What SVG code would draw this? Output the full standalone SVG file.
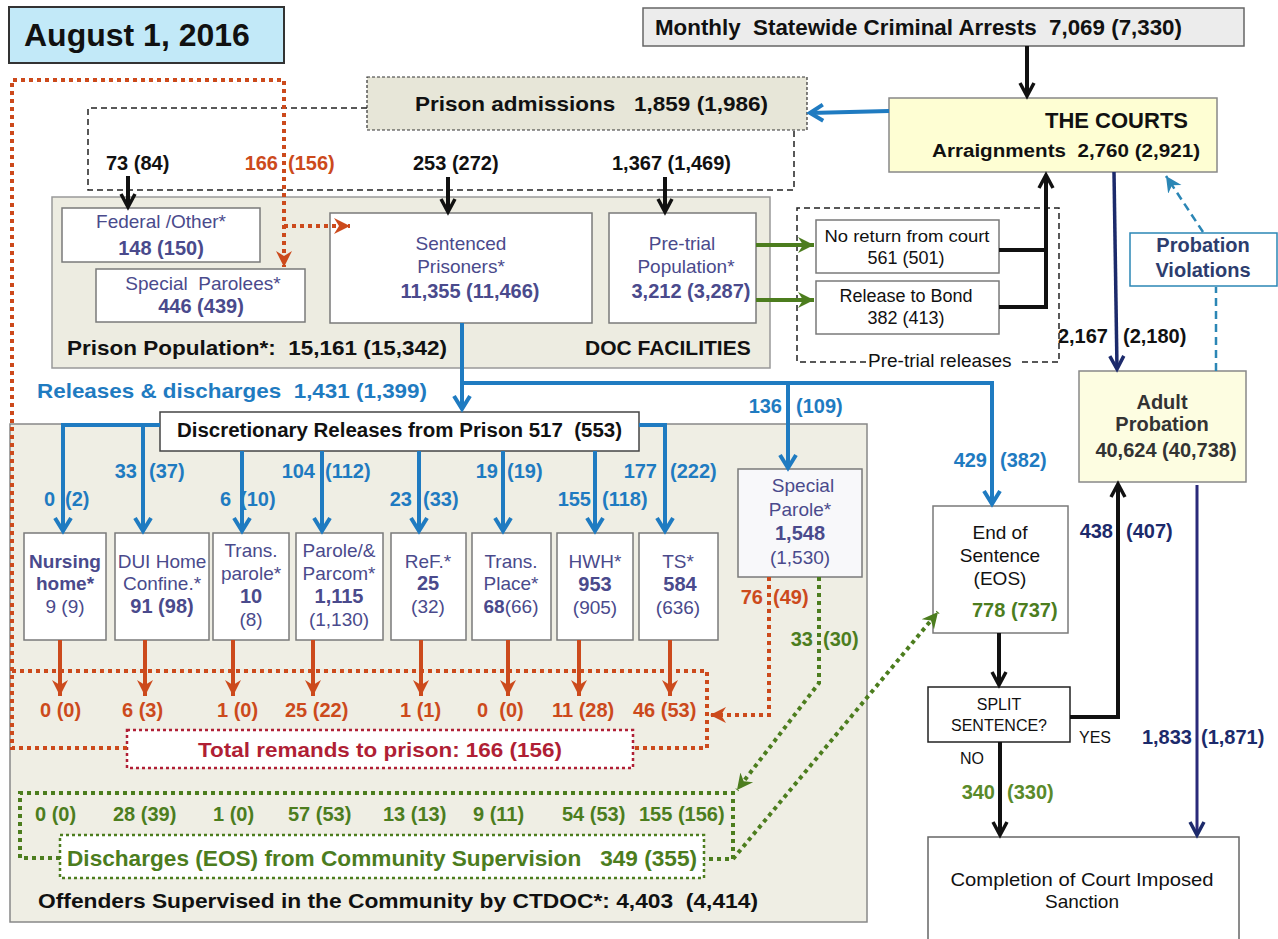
<svg xmlns="http://www.w3.org/2000/svg" width="1278" height="939" viewBox="0 0 1278 939">
<style>
text{font-family:"Liberation Sans",Arial,sans-serif;fill:#111}
.b{font-weight:bold}
.m{text-anchor:middle}
.e{text-anchor:end}
.f20{font-size:20px}
.f19{font-size:19px}
.f18{font-size:18px}
.f16{font-size:16px}
.pu{fill:#4a4a8c}
.bl{fill:#1f7bc1}
.rd{fill:#cc4a1c}
.cr{fill:#b01f35}
.gr{fill:#4c7d1e}
.lgr{fill:#5a8a2a}
.nv{fill:#1c2a6b}
.pv{fill:#2d3d6e}
.dk{fill:#333}
.box{fill:#fff;stroke:#7a7a7a;stroke-width:1.5}
.lb{stroke:#1f7bc1;stroke-width:4;fill:none}
.lk{stroke:#111;stroke-width:4;fill:none}
.ln{stroke:#1c2a6b;stroke-width:3.5;fill:none}
.lr{stroke:#cc4a1c;stroke-width:4;fill:none}
.lg{stroke:#4c7d1e;stroke-width:4;fill:none}
.lrd{stroke:#cc4a1c;stroke-width:4;fill:none;stroke-dasharray:4 4}
.lcd{stroke:#b01f35;stroke-width:2.5;stroke-dasharray:3 3}
.lgd{stroke:#4c7d1e;stroke-width:4;fill:none;stroke-dasharray:4 4}
.lgt{stroke:#4c7d1e;stroke-width:2.5;stroke-dasharray:3 3}
.ld{stroke:#222;stroke-width:1.5;fill:none;stroke-dasharray:6 4}
.lt{stroke:#2b86b5;stroke-width:2.5;fill:none;stroke-dasharray:8 5}
</style>
<defs>
<marker id="mk" markerUnits="userSpaceOnUse" markerWidth="20" markerHeight="20" refX="16" refY="10" orient="auto"><path d="M3,3 L16,10 L3,17" fill="none" stroke="#111" stroke-width="3.5"/></marker>
<marker id="mb" markerUnits="userSpaceOnUse" markerWidth="20" markerHeight="22" refX="16" refY="11" orient="auto"><path d="M3,3 L16,11 L3,19" fill="none" stroke="#1f7bc1" stroke-width="4"/></marker>
<marker id="mn" markerUnits="userSpaceOnUse" markerWidth="20" markerHeight="20" refX="16" refY="10" orient="auto"><path d="M3,3 L16,10 L3,17" fill="none" stroke="#1c2a6b" stroke-width="3.5"/></marker>
<marker id="mr" markerUnits="userSpaceOnUse" markerWidth="18" markerHeight="18" refX="16" refY="9" orient="auto"><path d="M0,1 L16,9 L0,17 L5,9 z" fill="#cc4a1c"/></marker>
<marker id="mg" markerUnits="userSpaceOnUse" markerWidth="18" markerHeight="18" refX="16" refY="9" orient="auto"><path d="M0,1 L16,9 L0,17 L5,9 z" fill="#4c7d1e"/></marker>
<marker id="mt" markerUnits="userSpaceOnUse" markerWidth="18" markerHeight="18" refX="16" refY="9" orient="auto"><path d="M0,1 L16,9 L0,17 L5,9 z" fill="#2b86b5"/></marker>
</defs>

<g id="doc-panel">
<rect x="52" y="197" width="718" height="171" fill="#edece1" stroke="#999" stroke-width="1.5"/>
<text x="67" y="355" class="b" font-size="21" textLength="380" lengthAdjust="spacingAndGlyphs" xml:space="preserve">Prison Population*:  15,161 (15,342)</text>
<text x="585" y="355" class="b" font-size="21">DOC FACILITIES</text>
</g>

<g id="community-panel">
<rect x="10" y="424" width="857" height="498" fill="#efeee4" stroke="#888" stroke-width="1.5"/>
<text x="38" y="908" class="b" font-size="21" textLength="720" lengthAdjust="spacingAndGlyphs" xml:space="preserve">Offenders Supervised in the Community by CTDOC*: 4,403  (4,414)</text>
</g>

<g id="title">
<rect x="9" y="7" width="275" height="56" fill="#c2e9f8" stroke="#333" stroke-width="2"/>
<text x="24" y="46" class="b" font-size="32">August 1, 2016</text>
</g>

<g id="arrests">
<rect x="643" y="8" width="601" height="38" fill="#ececec" stroke="#666" stroke-width="1.5"/>
<text x="655" y="35" class="b" font-size="22" textLength="527" lengthAdjust="spacingAndGlyphs" xml:space="preserve">Monthly  Statewide Criminal Arrests  7,069 (7,330)</text>
</g>

<g id="courts">
<rect x="889" y="98" width="328" height="74" fill="#fefed3" stroke="#888" stroke-width="1.5"/>
<text x="1045" y="128" class="b" font-size="22">THE COURTS</text>
<text x="932" y="157" class="b" font-size="18" textLength="268" lengthAdjust="spacingAndGlyphs" xml:space="preserve">Arraignments  2,760 (2,921)</text>
</g>

<g id="admissions">
<rect x="367" y="77" width="440" height="53" fill="#e7e6d8" stroke="#333" stroke-width="1.2" stroke-dasharray="3 2"/>
<text x="415" y="111" class="b" font-size="21" textLength="353" lengthAdjust="spacingAndGlyphs" xml:space="preserve">Prison admissions   1,859 (1,986)</text>
</g>

<g id="federal">
<rect x="62" y="208" width="198" height="54" class="box"/>
<text x="161" y="228" class="m f19 pu">Federal /Other*</text>
<text x="161" y="255" class="m b f20 pu">148 (150)</text>
</g>

<g id="special-parolees">
<rect x="96" y="269" width="209" height="53" class="box"/>
<text x="203" y="290" class="m f19 pu" xml:space="preserve">Special  Parolees*</text>
<text x="201" y="313" class="m b f20 pu">446 (439)</text>
</g>

<g id="sentenced">
<rect x="330" y="213" width="262" height="110" class="box"/>
<text x="461" y="250" class="m f19 pu">Sentenced</text>
<text x="461" y="273" class="m f19 pu">Prisoners*</text>
<text x="470" y="298" class="m b f20 pu">11,355 (11,466)</text>
</g>

<g id="pretrial">
<rect x="609" y="213" width="147" height="110" class="box"/>
<text x="682" y="250" class="m f19 pu">Pre-trial</text>
<text x="686" y="273" class="m f19 pu">Population*</text>
<text x="691" y="298" class="m b f20 pu">3,212 (3,287)</text>
</g>

<g id="pretrial-releases">
<path d="M866,362 H797 V208 H1059 V362 H1022" class="ld"/>
<text x="868" y="367" class="f19">Pre-trial releases</text>
</g>

<g id="no-return">
<rect x="816" y="220" width="183" height="53" class="box"/>
<text x="907" y="242" class="m" font-size="17" textLength="165" lengthAdjust="spacingAndGlyphs">No return from court</text>
<text x="906" y="264" class="m f18">561 (501)</text>
</g>

<g id="bond">
<rect x="816" y="281" width="183" height="53" class="box"/>
<text x="906" y="302" class="m f18">Release to Bond</text>
<text x="906" y="324" class="m f18">382 (413)</text>
</g>

<g id="probation-violations">
<rect x="1130" y="233" width="147" height="53" fill="#fff" stroke="#2b86b5" stroke-width="1.5"/>
<text x="1203" y="252" class="m b f20 pv">Probation</text>
<text x="1203" y="277" class="m b f20 pv">Violations</text>
</g>

<g id="adult-probation">
<rect x="1079" y="371" width="167" height="111" fill="#fdfde1" stroke="#888" stroke-width="1.5"/>
<text x="1162" y="409" class="m b f20 dk">Adult</text>
<text x="1162" y="431" class="m b f20 dk">Probation</text>
<text x="1166" y="457" class="m b f20 dk">40,624 (40,738)</text>
</g>

<g id="eos">
<rect x="933" y="506" width="135" height="127" class="box"/>
<text x="1000" y="539" class="m f19">End of</text>
<text x="1000" y="562" class="m f19">Sentence</text>
<text x="1000" y="585" class="m f19">(EOS)</text>
<text x="972" y="617" class="b f20 gr">778 (737)</text>
</g>

<g id="split">
<rect x="928" y="687" width="142" height="55" fill="#fff" stroke="#222" stroke-width="1.5"/>
<text x="999" y="710" class="m f16">SPLIT</text>
<text x="999" y="731" class="m f16">SENTENCE?</text>
</g>

<g id="completion">
<rect x="928" y="837" width="311" height="110" fill="#fff" stroke="#666" stroke-width="1.5"/>
<text x="1082" y="886" class="m" font-size="19" textLength="263" lengthAdjust="spacingAndGlyphs">Completion of Court Imposed</text>
<text x="1082" y="908" class="m f19">Sanction</text>
</g>

<g id="discretionary">
<rect x="160" y="412" width="479" height="39" fill="#fff" stroke="#444" stroke-width="1.5"/>
<text x="177" y="437" class="b f20" textLength="445" lengthAdjust="spacingAndGlyphs" xml:space="preserve">Discretionary Releases from Prison 517  (553)</text>
</g>

<g id="nursing">
<rect x="24" y="533" width="82" height="107" class="box"/>
<text x="65" y="568" class="m b f19 pu">Nursing</text>
<text x="65" y="590" class="m b f19 pu">home*</text>
<text x="65" y="613" class="m f19 pu">9 (9)</text>
</g>
<g id="dui">
<rect x="115" y="533" width="94" height="107" class="box"/>
<text x="162" y="568" class="m f19 pu">DUI Home</text>
<text x="162" y="590" class="m f19 pu">Confine.*</text>
<text x="162" y="613" class="m b f20 pu">91 (98)</text>
</g>
<g id="trans-parole">
<rect x="213" y="533" width="76" height="107" class="box"/>
<text x="251" y="557" class="m f19 pu">Trans.</text>
<text x="251" y="580" class="m f19 pu">parole*</text>
<text x="251" y="603" class="m b f20 pu">10</text>
<text x="251" y="626" class="m f19 pu">(8)</text>
</g>
<g id="parole">
<rect x="296" y="533" width="87" height="107" class="box"/>
<text x="339" y="557" class="m f19 pu">Parole/&amp;</text>
<text x="339" y="580" class="m f19 pu">Parcom*</text>
<text x="339" y="603" class="m b f20 pu">1,115</text>
<text x="339" y="626" class="m f19 pu">(1,130)</text>
</g>
<g id="ref">
<rect x="391" y="533" width="75" height="107" class="box"/>
<text x="428" y="568" class="m f19 pu">ReF.*</text>
<text x="428" y="590" class="m b f20 pu">25</text>
<text x="428" y="613" class="m f19 pu">(32)</text>
</g>
<g id="trans-place">
<rect x="472" y="533" width="79" height="107" class="box"/>
<text x="511" y="568" class="m f19 pu">Trans.</text>
<text x="511" y="590" class="m f19 pu">Place*</text>
<text x="511" y="613" class="m f19 pu"><tspan class="b">68</tspan>(66)</text>
</g>
<g id="hwh">
<rect x="557" y="533" width="76" height="107" class="box"/>
<text x="595" y="568" class="m f19 pu">HWH*</text>
<text x="595" y="591" class="m b f20 pu">953</text>
<text x="595" y="614" class="m f19 pu">(905)</text>
</g>
<g id="ts">
<rect x="639" y="533" width="79" height="107" class="box"/>
<text x="678" y="568" class="m f19 pu">TS*</text>
<text x="680" y="591" class="m b f20 pu">584</text>
<text x="678" y="614" class="m f19 pu">(636)</text>
</g>
<g id="special-parole">
<rect x="738" y="469" width="124" height="108" fill="#f8f8fa" stroke="#7a7a7a" stroke-width="1.5"/>
<text x="803" y="492" class="m f19 pu">Special</text>
<text x="800" y="516" class="m f19 pu">Parole*</text>
<text x="800" y="540" class="m b f20 pu">1,548</text>
<text x="800" y="564" class="m f19 pu">(1,530)</text>
</g>

<g id="total-remands">
<rect x="127" y="730" width="506" height="38" fill="#fff" class="lcd"/>
<text x="198" y="757" class="b cr" font-size="21" textLength="364" lengthAdjust="spacingAndGlyphs">Total remands to prison: 166 (156)</text>
</g>

<g id="discharges">
<rect x="60" y="835" width="644" height="43" fill="#fff" class="lgt"/>
<text x="67" y="866" class="b gr" font-size="22" textLength="630" lengthAdjust="spacingAndGlyphs" xml:space="preserve">Discharges (EOS) from Community Supervision   349 (355)</text>
</g>

<g id="connectors">
<path d="M367,108 H88 V190 H794 V130" class="ld"/>
<path d="M1027,46 V96" class="lk" marker-end="url(#mk)"/>
<path d="M128,176 V207" class="lk" marker-end="url(#mk)"/>
<path d="M448,177 V212" class="lk" marker-end="url(#mk)"/>
<path d="M665,177 V212" class="lk" marker-end="url(#mk)"/>
<path d="M999,250 H1046 M999,307 H1046" class="lk"/>
<path d="M1046,309 V175" class="lk" marker-end="url(#mk)"/>
<path d="M999,633 V685" class="lk" marker-end="url(#mk)"/>
<path d="M1070,717 H1118 V484" class="lk" marker-end="url(#mk)"/>
<path d="M1000,742 V835" class="lk" marker-end="url(#mk)"/>
<path d="M756,245 H814" class="lg" marker-end="url(#mg)"/>
<path d="M756,300 H814" class="lg" marker-end="url(#mg)"/>
<path d="M889,111 L810,113" class="lb" stroke-width="3.5" marker-end="url(#mb)"/>
<path d="M462,323 V409" class="lb" marker-end="url(#mb)"/>
<path d="M462,383 H992 V504" class="lb" marker-end="url(#mb)"/>
<path d="M788,383 V468" class="lb" marker-end="url(#mb)"/>
<path d="M160,425 H63 V531" class="lb" marker-end="url(#mb)"/>
<path d="M143,425 V531" class="lb" marker-end="url(#mb)"/>
<path d="M639,425 H665 V531" class="lb" marker-end="url(#mb)"/>
<path d="M242,451 V531" class="lb" marker-end="url(#mb)"/>
<path d="M322,451 V531" class="lb" marker-end="url(#mb)"/>
<path d="M419,451 V531" class="lb" marker-end="url(#mb)"/>
<path d="M503,451 V531" class="lb" marker-end="url(#mb)"/>
<path d="M595,451 V531" class="lb" marker-end="url(#mb)"/>
<path d="M1114,172 L1117,369" class="ln" marker-end="url(#mn)"/>
<path d="M1197,485 V835" class="ln" style="stroke:#2a2a7a;stroke-width:3" marker-end="url(#mn)"/>
<path d="M1216,371 V287" class="lt"/>
<path d="M1203,232 L1166,176" class="lt" marker-end="url(#mt)"/>
<path d="M60,640 V696" class="lr" marker-end="url(#mr)"/>
<path d="M145,640 V696" class="lr" marker-end="url(#mr)"/>
<path d="M233,640 V696" class="lr" marker-end="url(#mr)"/>
<path d="M313,640 V696" class="lr" marker-end="url(#mr)"/>
<path d="M421,640 V696" class="lr" marker-end="url(#mr)"/>
<path d="M508,640 V696" class="lr" marker-end="url(#mr)"/>
<path d="M579,640 V696" class="lr" marker-end="url(#mr)"/>
<path d="M670,640 V696" class="lr" marker-end="url(#mr)"/>
<path d="M127,748 H12 V80 H284 V267" class="lrd" marker-end="url(#mr)"/>
<path d="M284,226 H350" class="lrd" marker-end="url(#mr)"/>
<path d="M12,671 H707 V748 H633" class="lrd"/>
<path d="M769,577 V715 H710" class="lrd" marker-end="url(#mr)"/>
<path d="M819,577 V683 L737,790" class="lgd" marker-end="url(#mg)"/>
<path d="M60,858 H20 V793 H733 V859 H704" class="lgd"/>
<path d="M733,859 L938,612" class="lgd" marker-end="url(#mg)"/>
</g>

<g id="labels">
<text x="106" y="170" class="b f20">73 (84)</text>
<text x="278" y="170" class="e b f20 rd">166</text>
<text x="288" y="170" class="b f20 rd">(156)</text>
<text x="413" y="170" class="b f20">253 (272)</text>
<text x="612" y="170" class="b f20">1,367 (1,469)</text>
<text x="37" y="398" class="b bl" font-size="21" textLength="390" lengthAdjust="spacingAndGlyphs" xml:space="preserve">Releases &amp; discharges  1,431 (1,399)</text>
<text x="782" y="413" class="e b f20 bl">136</text>
<text x="796" y="413" class="b f20 bl">(109)</text>
<text x="987" y="467" class="e b f20 bl">429</text>
<text x="1000" y="467" class="b f20 bl">(382)</text>
<text x="1108" y="343" class="e b f20">2,167</text>
<text x="1123" y="343" class="b f20">(2,180)</text>
<text x="1113" y="538" class="e b f20 nv">438</text>
<text x="1126" y="538" class="b f20 nv">(407)</text>
<text x="1079" y="743" class="f16">YES</text>
<text x="960" y="764" class="f16">NO</text>
<text x="995" y="799" class="e b f20 lgr">340</text>
<text x="1007" y="799" class="b f20 lgr">(330)</text>
<text x="1192" y="744" class="e b f20 nv">1,833</text>
<text x="1201" y="744" class="b f20 nv">(1,871)</text>
<text x="55" y="506" class="e b f20 bl">0</text><text x="65" y="506" class="b f20 bl">(2)</text>
<text x="137" y="478" class="e b f20 bl">33</text><text x="149" y="478" class="b f20 bl">(37)</text>
<text x="231" y="506" class="e b f20 bl">6</text><text x="240" y="506" class="b f20 bl">(10)</text>
<text x="315" y="478" class="e b f20 bl">104</text><text x="325" y="478" class="b f20 bl">(112)</text>
<text x="412" y="506" class="e b f20 bl">23</text><text x="423" y="506" class="b f20 bl">(33)</text>
<text x="498" y="478" class="e b f20 bl">19</text><text x="507" y="478" class="b f20 bl">(19)</text>
<text x="591" y="506" class="e b f20 bl">155</text><text x="602" y="506" class="b f20 bl">(118)</text>
<text x="657" y="478" class="e b f20 bl">177</text><text x="670" y="478" class="b f20 bl">(222)</text>
<text x="763" y="604" class="e b f20 rd">76</text><text x="773" y="604" class="b f20 rd">(49)</text>
<text x="813" y="646" class="e b f20 gr">33</text><text x="823" y="646" class="b f20 gr">(30)</text>
<text x="40" y="717" class="b f20 rd">0 (0)</text>
<text x="122" y="717" class="b f20 rd">6 (3)</text>
<text x="217" y="717" class="b f20 rd">1 (0)</text>
<text x="285" y="717" class="b f20 rd">25 (22)</text>
<text x="400" y="717" class="b f20 rd">1 (1)</text>
<text x="477" y="717" class="b f20 rd" xml:space="preserve">0  (0)</text>
<text x="552" y="717" class="b f20 rd">11 (28)</text>
<text x="633" y="717" class="b f20 rd">46 (53)</text>
<text x="35" y="821" class="b f20 gr">0 (0)</text>
<text x="113" y="821" class="b f20 gr">28 (39)</text>
<text x="213" y="821" class="b f20 gr">1 (0)</text>
<text x="288" y="821" class="b f20 gr">57 (53)</text>
<text x="383" y="821" class="b f20 gr">13 (13)</text>
<text x="473" y="821" class="b f20 gr">9 (11)</text>
<text x="562" y="821" class="b f20 gr">54 (53)</text>
<text x="639" y="821" class="b f20 gr">155 (156)</text>
</g>
</svg>
